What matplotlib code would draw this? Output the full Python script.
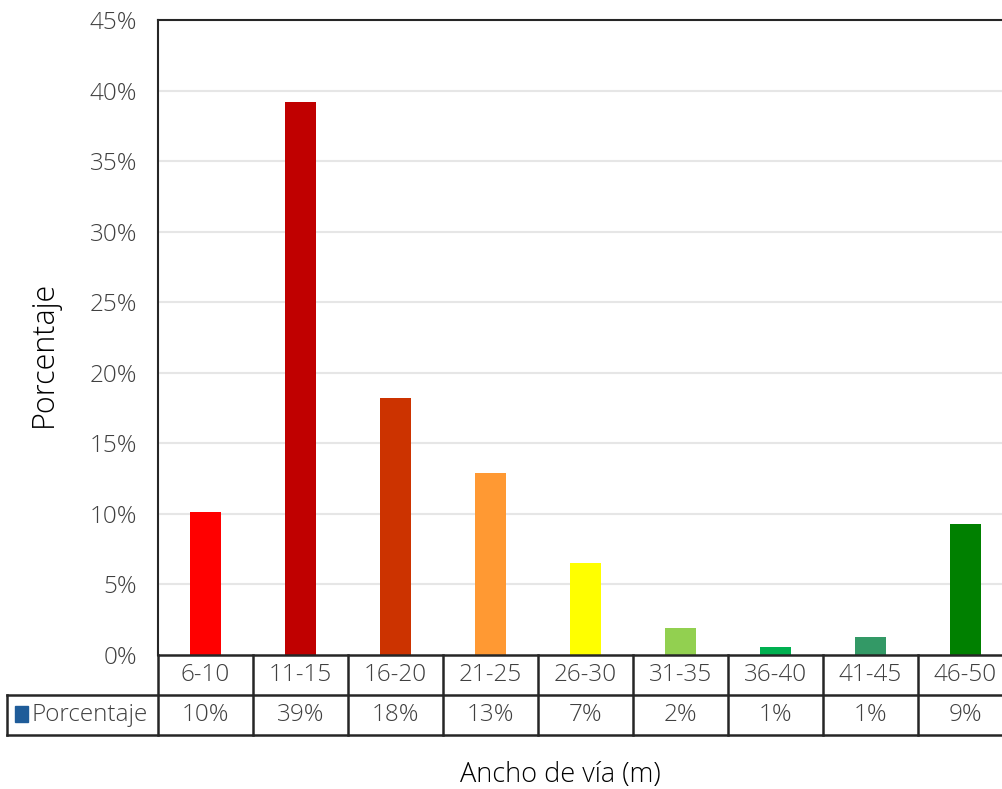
import matplotlib
matplotlib.use("Agg")
import matplotlib.pyplot as plt
import matplotlib.transforms as mtransforms
from matplotlib.patches import Rectangle

categories = ["6-10", "11-15", "16-20", "21-25", "26-30", "31-35", "36-40", "41-45", "46-50"]
values = [10.1, 39.2, 18.2, 12.9, 6.5, 1.9, 0.6, 1.3, 9.3]
table_labels = ["10%", "39%", "18%", "13%", "7%", "2%", "1%", "1%", "9%"]
colors = ["#FF0000", "#C00000", "#CC3300", "#FF9933", "#FFFF00", "#92D050", "#00B050", "#339966", "#008000"]
yticks = [0, 5, 10, 15, 20, 25, 30, 35, 40, 45]
series_name = "Porcentaje"

W, H = 1003, 789
fig = plt.figure(figsize=(W / 100, H / 100), dpi=100)
FONT = ["Open Sans", "DejaVu Sans"]
plt.rcParams["font.family"] = FONT
FW = "light"
TC = "#404040"
FS = 17.5

left, right, top, bottom = 158, 1013, 20, 655
ax = fig.add_axes([left / W, 1 - bottom / H, (right - left) / W, (bottom - top) / H])
n = len(categories)
x = list(range(n))
ax.bar(x, values, width=0.32, color=colors, zorder=3)
ax.set_xlim(-0.5, n - 0.5)
ax.set_ylim(0, 45)
ax.set_yticks(yticks)
ax.set_yticklabels([f"{v}%" for v in yticks], fontsize=FS, color=TC, fontweight=FW)
ax.tick_params(axis="y", length=0, pad=15)
ax.set_xticks([])
for v in yticks[1:-1]:
    ax.axhline(v, color="#E6E6E6", lw=1.5, zorder=1)
for s in ["right", "bottom"]:
    ax.spines[s].set_visible(False)
ax.spines["top"].set_color("#262626")
ax.spines["top"].set_linewidth(1.5)
ax.spines["left"].set_color("#262626")
ax.spines["left"].set_linewidth(1.5)

ph = bottom - top
def fy(py):
    return (bottom - py) / ph
def fx(px):
    return (px - left) / (right - left)

lc = "#262626"
lw = 1.8
tr = ax.transAxes
ax.plot([0, 1], [0, 0], transform=tr, color=lc, lw=lw, clip_on=False, zorder=5)
ax.plot([fx(7), 1], [fy(695), fy(695)], transform=tr, color=lc, lw=lw, clip_on=False)
ax.plot([fx(7), 1], [fy(735), fy(735)], transform=tr, color=lc, lw=lw, clip_on=False)
ax.plot([0, 0], [fy(655), fy(735)], transform=tr, color=lc, lw=lw, clip_on=False)
ax.plot([fx(7), fx(7)], [fy(695), fy(735)], transform=tr, color=lc, lw=lw, clip_on=False)
for k in range(1, n + 1):
    xx = k / n
    ax.plot([xx, xx], [fy(655), fy(735)], transform=tr, color=lc, lw=lw, clip_on=False)

blend = mtransforms.blended_transform_factory(ax.transData, ax.transAxes)
for i, (c, lab) in enumerate(zip(categories, table_labels)):
    ax.text(i, fy(675), c, transform=blend, ha="center", va="center", fontsize=FS,
            color=TC, fontweight=FW, clip_on=False)
    ax.text(i, fy(715), lab, transform=blend, ha="center", va="center", fontsize=FS,
            color=TC, fontweight=FW, clip_on=False)

ax.add_patch(Rectangle((fx(15), fy(722)), fx(28) - fx(15), fy(706) - fy(722), transform=tr,
                       color="#1F5C99", clip_on=False))
ax.text(fx(32), fy(715), series_name, transform=tr, ha="left", va="center", fontsize=FS,
        color=TC, fontweight=FW, clip_on=False)

fig.text(560 / W, 1 - 775 / H, "Ancho de vía (m)", ha="center", va="center", fontsize=19.5,
         color="#000000", fontweight=FW)
fig.text(44 / W, 1 - 354 / H, "Porcentaje", ha="center", va="center", rotation=90,
         fontsize=22, color="#000000", fontweight=FW)

fig.savefig("out.png", dpi=100)
